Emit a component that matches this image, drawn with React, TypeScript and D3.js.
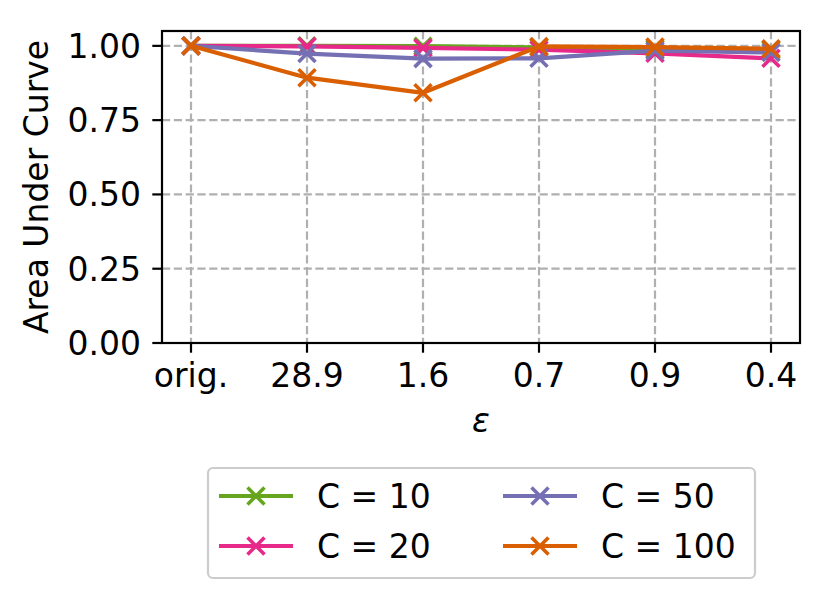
import * as d3 from 'd3';

const categories = ['orig.', '28.9', '1.6', '0.7', '0.9', '0.4'];
const yTicks = [0, 0.25, 0.5, 0.75, 1.0];

const seriesNames = ['C = 10', 'C = 20', 'C = 50', 'C = 100'];
const seriesColors = ['#66a61e', '#e7298a', '#7570b3', '#d95f02'];
const c10 = [1.0, 1.0, 0.999, 0.995, 0.99, 0.986];
const c20 = [1.0, 0.998, 0.993, 0.987, 0.975, 0.958];
const c50 = [1.0, 0.974, 0.957, 0.958, 0.984, 0.978];
const c100 = [1.0, 0.893, 0.842, 0.998, 0.996, 0.99];
const seriesValues = [c10, c20, c50, c100];

const W = 832;
const H = 600;
const m = { left: 162, right: 800, top: 31, bottom: 343 };
const font = 'DejaVu Sans, sans-serif';
const fs = 33;

export default function App() {
  const x = d3.scaleLinear().domain([-0.25, categories.length - 0.75]).range([m.left, m.right]);
  const y = d3.scaleLinear().domain([0, 1.05]).range([m.bottom, m.top]);
  const line = d3.line<number>().x((_, i) => x(i)).y(d => y(d));
  const ms = 8.5;

  const marker = (cx: number, cy: number, color: string, key: string, s = ms, sw = 3.6) => (
    <path
      key={key}
      d={`M${cx - s},${cy - s}L${cx + s},${cy + s}M${cx - s},${cy + s}L${cx + s},${cy - s}`}
      stroke={color}
      strokeWidth={sw}
      fill="none"
    />
  );

  const legendCols = [
    { lineX: 219, textX: 317 },
    { lineX: 503, textX: 601 },
  ];
  const legendRows = [496, 546];

  return (
    <div style={{ position: 'absolute', left: 0, top: 0 }}>
      <svg width={W} height={H} style={{ display: 'block', background: '#fff' }} fontFamily={font}>
        {/* grid */}
        {categories.map((_, i) => (
          <line key={'gx' + i} x1={x(i)} x2={x(i)} y1={m.top} y2={m.bottom}
            stroke="#b0b0b0" strokeWidth={2.2} strokeDasharray="8.2,3.6" />
        ))}
        {yTicks.map(t => (
          <line key={'gy' + t} x1={m.left} x2={m.right} y1={y(t)} y2={y(t)}
            stroke="#b0b0b0" strokeWidth={2.2} strokeDasharray="8.2,3.6" />
        ))}

        {/* series */}
        {seriesValues.map((vals, si) => (
          <g key={seriesNames[si]}>
            <path d={line(vals) || undefined} fill="none" stroke={seriesColors[si]} strokeWidth={4.2}
              strokeLinejoin="round" strokeLinecap="square" />
            {vals.map((v, i) => marker(x(i), y(v), seriesColors[si], `m${si}-${i}`))}
          </g>
        ))}

        {/* spines */}
        <rect x={m.left} y={m.top} width={m.right - m.left} height={m.bottom - m.top}
          fill="none" stroke="#000" strokeWidth={2.2} />

        {/* y ticks */}
        {yTicks.map(t => (
          <g key={'yt' + t}>
            <line x1={m.left - 9.7} x2={m.left} y1={y(t)} y2={y(t)} stroke="#000" strokeWidth={2.2} />
            <text x={m.left - 21} y={y(t) + 11.8} textAnchor="end" fontSize={fs}>{t.toFixed(2)}</text>
          </g>
        ))}
        {/* x ticks */}
        {categories.map((c, i) => (
          <g key={'xt' + i}>
            <line x1={x(i)} x2={x(i)} y1={m.bottom} y2={m.bottom + 9.7} stroke="#000" strokeWidth={2.2} />
            <text x={x(i)} y={m.bottom + 44} textAnchor="middle" fontSize={fs}>{c}</text>
          </g>
        ))}

        {/* axis labels */}
        <text x={(m.left + m.right) / 2} y={432} textAnchor="middle" fontSize={fs} fontStyle="italic">ε</text>
        <text transform={`translate(48,${(m.top + m.bottom) / 2}) rotate(-90)`} textAnchor="middle" fontSize={fs}>
          Area Under Curve
        </text>

        {/* legend */}
        <rect x={208} y={468} width={547} height={110} rx={5} fill="#fff" fillOpacity={0.8}
          stroke="#cccccc" strokeWidth={2.2} />
        {seriesNames.map((name, si) => {
          const col = legendCols[Math.floor(si / 2)];
          const ly = legendRows[si % 2];
          return (
            <g key={'lg' + si}>
              <line x1={col.lineX} x2={col.lineX + 74} y1={ly} y2={ly} stroke={seriesColors[si]} strokeWidth={4.2} />
              {marker(col.lineX + 37, ly, seriesColors[si], 'lm' + si)}
              <text x={col.textX} y={ly + 12} fontSize={fs}>{name}</text>
            </g>
          );
        })}
      </svg>
    </div>
  );
}
